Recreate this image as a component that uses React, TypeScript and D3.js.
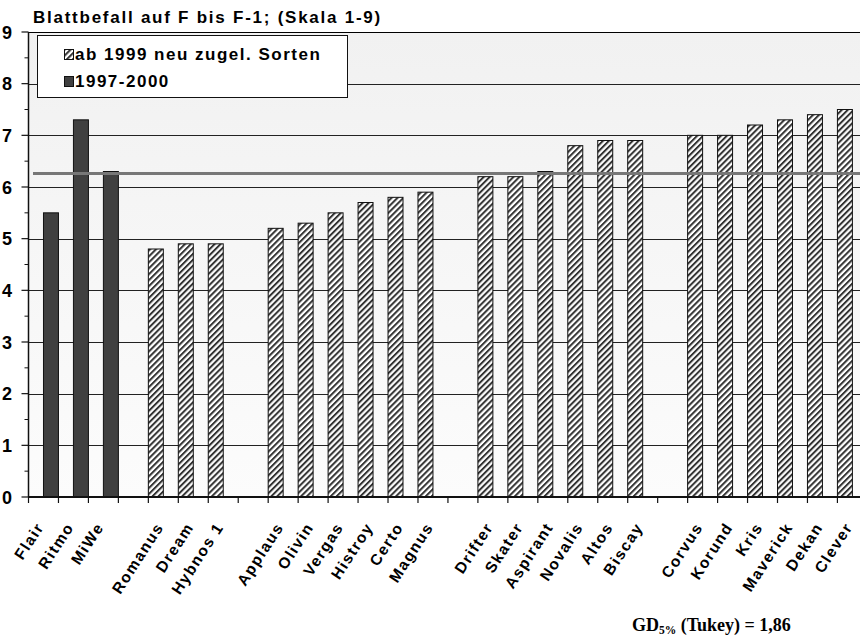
import React from 'react';
import * as d3 from 'd3';

const categories: string[] = [
  'Flair', 'Ritmo', 'MiWe', '',
  'Romanus', 'Dream', 'Hybnos 1', '',
  'Applaus', 'Olivin', 'Vergas', 'Histroy', 'Certo', 'Magnus', '',
  'Drifter', 'Skater', 'Aspirant', 'Novalis', 'Altos', 'Biscay', '',
  'Corvus', 'Korund', 'Kris', 'Maverick', 'Dekan', 'Clever',
];
// "ab 1999 neu zugel. Sorten"
const newValues: (number | null)[] = [
  null, null, null, null,
  4.8, 4.9, 4.9, null,
  5.2, 5.3, 5.5, 5.7, 5.8, 5.9, null,
  6.2, 6.2, 6.3, 6.8, 6.9, 6.9, null,
  7.0, 7.0, 7.2, 7.3, 7.4, 7.5,
];
// "1997-2000"
const oldValues: (number | null)[] = [
  5.5, 7.3, 6.3, null,
  null, null, null, null,
  null, null, null, null, null, null, null,
  null, null, null, null, null, null, null,
  null, null, null, null, null, null,
];
const yTicks = [0, 1, 2, 3, 4, 5, 6, 7, 8, 9];
const yMinorTicks = [0.5, 1.5, 2.5, 3.5, 4.5, 5.5, 6.5, 7.5, 8.5];
const refValue = 6.26;
const seriesNames = ['ab 1999 neu zugel. Sorten', '1997-2000'];
const title = 'Blattbefall auf F bis F-1; (Skala 1-9)';

const W = 860;
const H = 640;
const left = 28.5;
const top = 32;
const bottom = 497;
const slotW = 29.96;

export default function App() {
  const slots = categories.map((_, i) => i);
  const x = d3.scaleBand<number>().domain(slots).range([left, left + slotW * categories.length]).padding(0);
  const y = d3.scaleLinear().domain([0, 9]).range([bottom, top]);
  const bw = x.bandwidth() / 2;
  const sans = 'Liberation Sans, Arial, sans-serif';
  const serif = 'Liberation Serif, Times New Roman, serif';
  const boundaries = d3.range(categories.length + 1).map((i) => left + i * x.step());

  return (
    <svg width={W} height={H} style={{ position: 'absolute', left: 0, top: 0, background: '#fff' }}>
      <defs>
        <linearGradient id="bg" x1="0" y1="0" x2="0" y2="1">
          <stop offset="0" stopColor="#f1f1f1" />
          <stop offset="1" stopColor="#fcfcfc" />
        </linearGradient>
        <pattern id="hatch" patternUnits="userSpaceOnUse" width="4.2" height="4.2" patternTransform="rotate(45)">
          <rect width="4.2" height="4.2" fill="#fff" />
          <rect x="0" y="0" width="2" height="4.2" fill="#333" />
        </pattern>
      </defs>
      {/* plot background */}
      <rect x={left} y={top} width={W - left} height={bottom - top} fill="url(#bg)" />
      {/* gridlines */}
      {yTicks.slice(1, -1).map((t) => (
        <line key={t} x1={left} x2={W} y1={Math.round(y(t)) + 0.5} y2={Math.round(y(t)) + 0.5} stroke="#222" strokeWidth={1} />
      ))}
      {/* top border */}
      <line x1={left} x2={W} y1={top + 0.5} y2={top + 0.5} stroke="#000" strokeWidth={1.2} />
      {/* bars */}
      {categories.map((c, i) => (
        <g key={i}>
          {newValues[i] != null && (
            <rect x={x(i)!} y={y(newValues[i]!)} width={bw} height={y(0) - y(newValues[i]!)} fill="url(#hatch)" stroke="#111" strokeWidth={1} />
          )}
          {oldValues[i] != null && (
            <rect x={x(i)! + bw} y={y(oldValues[i]!)} width={bw} height={y(0) - y(oldValues[i]!)} fill="#404040" stroke="#111" strokeWidth={1} />
          )}
        </g>
      ))}
      {/* reference line */}
      <line x1={33} x2={W} y1={y(refValue)} y2={y(refValue)} stroke="#777" strokeWidth={3} />
      {/* axes */}
      <line x1={left} x2={left} y1={top} y2={bottom} stroke="#111" strokeWidth={1.5} />
      <line x1={left} x2={W} y1={bottom} y2={bottom} stroke="#111" strokeWidth={1.8} />
      {yTicks.map((t) => (
        <g key={t}>
          <line x1={left - 7} x2={left} y1={y(t)} y2={y(t)} stroke="#111" strokeWidth={1.2} />
          <text x={2} y={y(t) + 6.5} fontFamily={sans} fontWeight="bold" fontSize={18}>{t}</text>
        </g>
      ))}
      {yMinorTicks.map((t) => (
        <line key={t} x1={left - 4} x2={left} y1={y(t)} y2={y(t)} stroke="#111" strokeWidth={1} />
      ))}
      {boundaries.map((bx, i) => (
        <line key={i} x1={bx} x2={bx} y1={bottom} y2={bottom + 6} stroke="#111" strokeWidth={1.2} />
      ))}
      {/* x labels */}
      {categories.map((c, i) =>
        c ? (
          <text
            key={i}
            transform={`translate(${x(i)! + x.bandwidth() / 2 + 1},${527}) rotate(-57)`}
            textAnchor="end"
            fontFamily={sans}
            fontWeight="bold"
            fontSize={15.5}
            letterSpacing={1.5}
          >
            {c}
          </text>
        ) : null
      )}
      {/* title */}
      <text x={33} y={23} fontFamily={sans} fontWeight="bold" fontSize={17} letterSpacing={1.75}>{title}</text>
      {/* legend */}
      <rect x={37.5} y={35.5} width={310} height={62} fill="#fff" stroke="#111" strokeWidth={1} />
      <rect x={64.5} y={49.5} width={9} height={10} fill="url(#hatch)" stroke="#111" strokeWidth={1} />
      <text x={75} y={60} fontFamily={sans} fontWeight="bold" fontSize={17} letterSpacing={1.5}>{seriesNames[0]}</text>
      <rect x={64.5} y={76.5} width={9} height={10} fill="#404040" stroke="#111" strokeWidth={1} />
      <text x={75} y={87} fontFamily={sans} fontWeight="bold" fontSize={17} letterSpacing={1.5}>{seriesNames[1]}</text>
      {/* GD text */}
      <text x={632} y={631} fontFamily={serif} fontWeight="bold" fontSize={18}>
        GD<tspan fontSize={11.5} dy={3}>5%</tspan><tspan dy={-3}> (Tukey) = 1,86</tspan>
      </text>
    </svg>
  );
}
